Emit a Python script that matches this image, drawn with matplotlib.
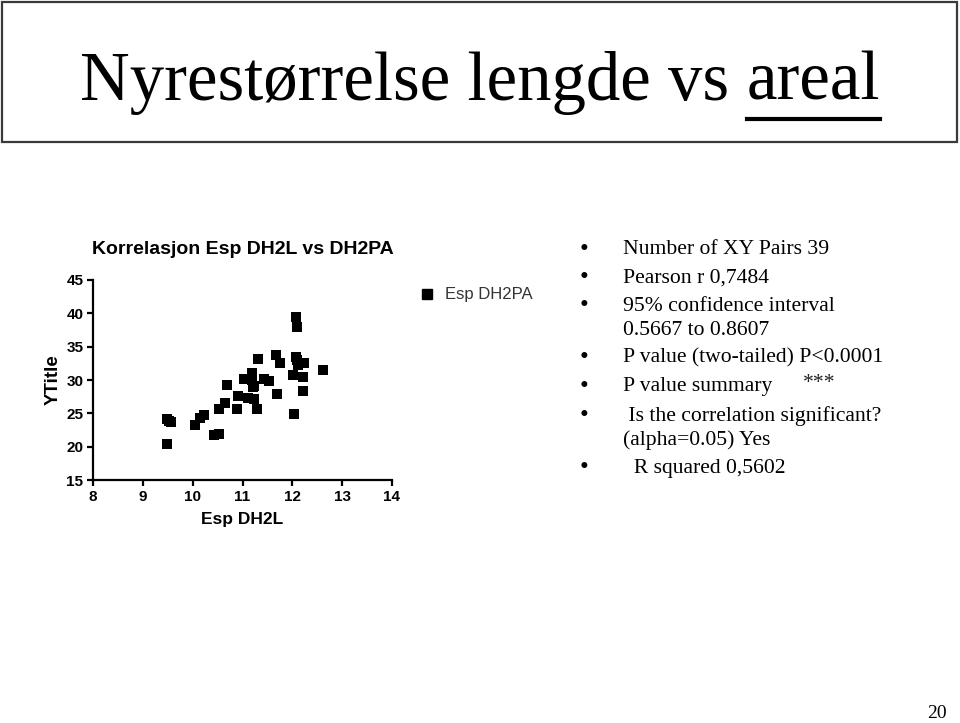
import matplotlib
matplotlib.use("Agg")
import matplotlib.pyplot as plt
from matplotlib.patches import Rectangle
from matplotlib.lines import Line2D

# ---- data ----
esp_dh2l = [9.48, 9.49, 9.57, 9.52, 10.05, 10.15, 10.23, 10.43, 10.53, 10.53,
            10.65, 10.68, 10.88, 10.90, 11.03, 11.12, 11.19, 11.20, 11.23, 11.22,
            11.23, 11.29, 11.31, 11.43, 11.54, 11.69, 11.68, 11.75, 12.02, 12.04,
            12.08, 12.09, 12.08, 12.12, 12.23, 12.22, 12.22, 12.61, 12.10]
esp_dh2pa = [20.4, 24.1, 23.7, 23.9, 23.2, 24.3, 24.7, 21.8, 21.9, 25.7,
             26.5, 29.2, 25.7, 27.6, 30.2, 27.3, 31.1, 30.0, 29.1, 28.9,
             27.1, 25.7, 33.2, 30.1, 29.9, 27.9, 33.8, 32.5, 30.7, 24.9,
             39.4, 38.0, 33.5, 32.2, 32.5, 30.5, 28.4, 31.5, 33.0]
x_ticks = [8, 9, 10, 11, 12, 13, 14]
y_ticks = [15, 20, 25, 30, 35, 40, 45]

page_title = "Nyrestørrelse lengde vs "
page_title_ul = "areal"
chart_title = "Korrelasjon Esp DH2L vs DH2PA"
x_label = "Esp DH2L"
y_label = "YTitle"
legend_label = "Esp DH2PA"
stats_lines = [
    ("•", "Number of XY Pairs 39"),
    ("•", "Pearson r 0,7484"),
    ("•", "95% confidence interval"),
    ("", "0.5667 to 0.8607"),
    ("•", "P value (two-tailed) P<0.0001"),
    ("•", "P value summary"),
    ("•", " Is the correlation significant?"),
    ("", "(alpha=0.05) Yes"),
    ("•", "  R squared 0,5602"),
]
stats_y = [250, 278, 306, 331, 358, 387, 416, 440, 468]
summary_stars = "***"
page_number = "20"

W, H = 960, 723
fig = plt.figure(figsize=(W / 100, H / 100), dpi=100)
fig.patch.set_facecolor("white")

def fx(px):
    return px / W

def fy(py):
    return 1 - py / H

# title box
fig.patches.append(Rectangle((fx(2), fy(142)), fx(955), 140 / H, transform=fig.transFigure,
                             fill=False, edgecolor="#3a3a3a", linewidth=1.6))
serif = ["Liberation Serif", "DejaVu Serif"]
t1 = fig.text(fx(80), fy(100), page_title, family=serif, fontsize=49.5,
              ha="left", va="baseline", color="black")
fig.canvas.draw()
bb = t1.get_window_extent()
t2 = fig.text(bb.x1 / W, fy(100), page_title_ul, family=serif, fontsize=49.5,
              ha="left", va="baseline", color="black")
fig.canvas.draw()
bb2 = t2.get_window_extent()
fig.lines.append(Line2D([bb2.x0 / W + 0.001, bb2.x1 / W], [fy(119), fy(119)],
                        transform=fig.transFigure, color="black", linewidth=3))

# scatter axes
ax = fig.add_axes([fx(93), fy(480), fx(392) - fx(93), (480 - 280) / H])
ax.scatter(esp_dh2l, esp_dh2pa, marker="s", s=48, color="black", linewidths=0, zorder=3,
           clip_on=False)
ax.set_xlim(8, 14)
ax.set_ylim(15, 45)
ax.set_xticks(x_ticks)
ax.set_yticks(y_ticks)
sans = ["Liberation Sans", "DejaVu Sans"]
for s in ["top", "right"]:
    ax.spines[s].set_visible(False)
for s in ["left", "bottom"]:
    ax.spines[s].set_linewidth(1.6)
ax.tick_params(direction="out", length=4, width=1.6, labelsize=11, pad=3)
for lab in ax.get_xticklabels() + ax.get_yticklabels():
    lab.set_family(sans)
    lab.set_fontweight("bold")
ax.set_xlabel(x_label, family=sans, fontweight="bold", fontsize=12.5, labelpad=6)
ax.set_ylabel(y_label, family=sans, fontweight="bold", fontsize=13.5, labelpad=3)
ax.set_title(chart_title, family=sans, fontweight="bold", fontsize=14, pad=19)

# legend
fig.lines.append(Line2D([fx(427)], [fy(294)], transform=fig.transFigure, marker="s",
                        markersize=6.5, color="black", linestyle="none"))
fig.text(fx(445), fy(294), legend_label, family=sans, fontsize=12, color="#333333",
         ha="left", va="center")

# stats text
for (b, txt), y in zip(stats_lines, stats_y):
    if b:
        fig.text(fx(584), fy(y), b, family=serif, fontsize=18, ha="center", va="center")
    fig.text(fx(623), fy(y), txt, family=serif, fontsize=15.6, ha="left", va="center")
fig.text(fx(803), fy(384), summary_stars, family=serif, fontsize=15.6, ha="left",
         va="center", color="#222222")

fig.text(fx(947), fy(713), page_number, family=serif, fontsize=14, ha="right", va="center")

fig.savefig("out.png", dpi=100, facecolor="white")
